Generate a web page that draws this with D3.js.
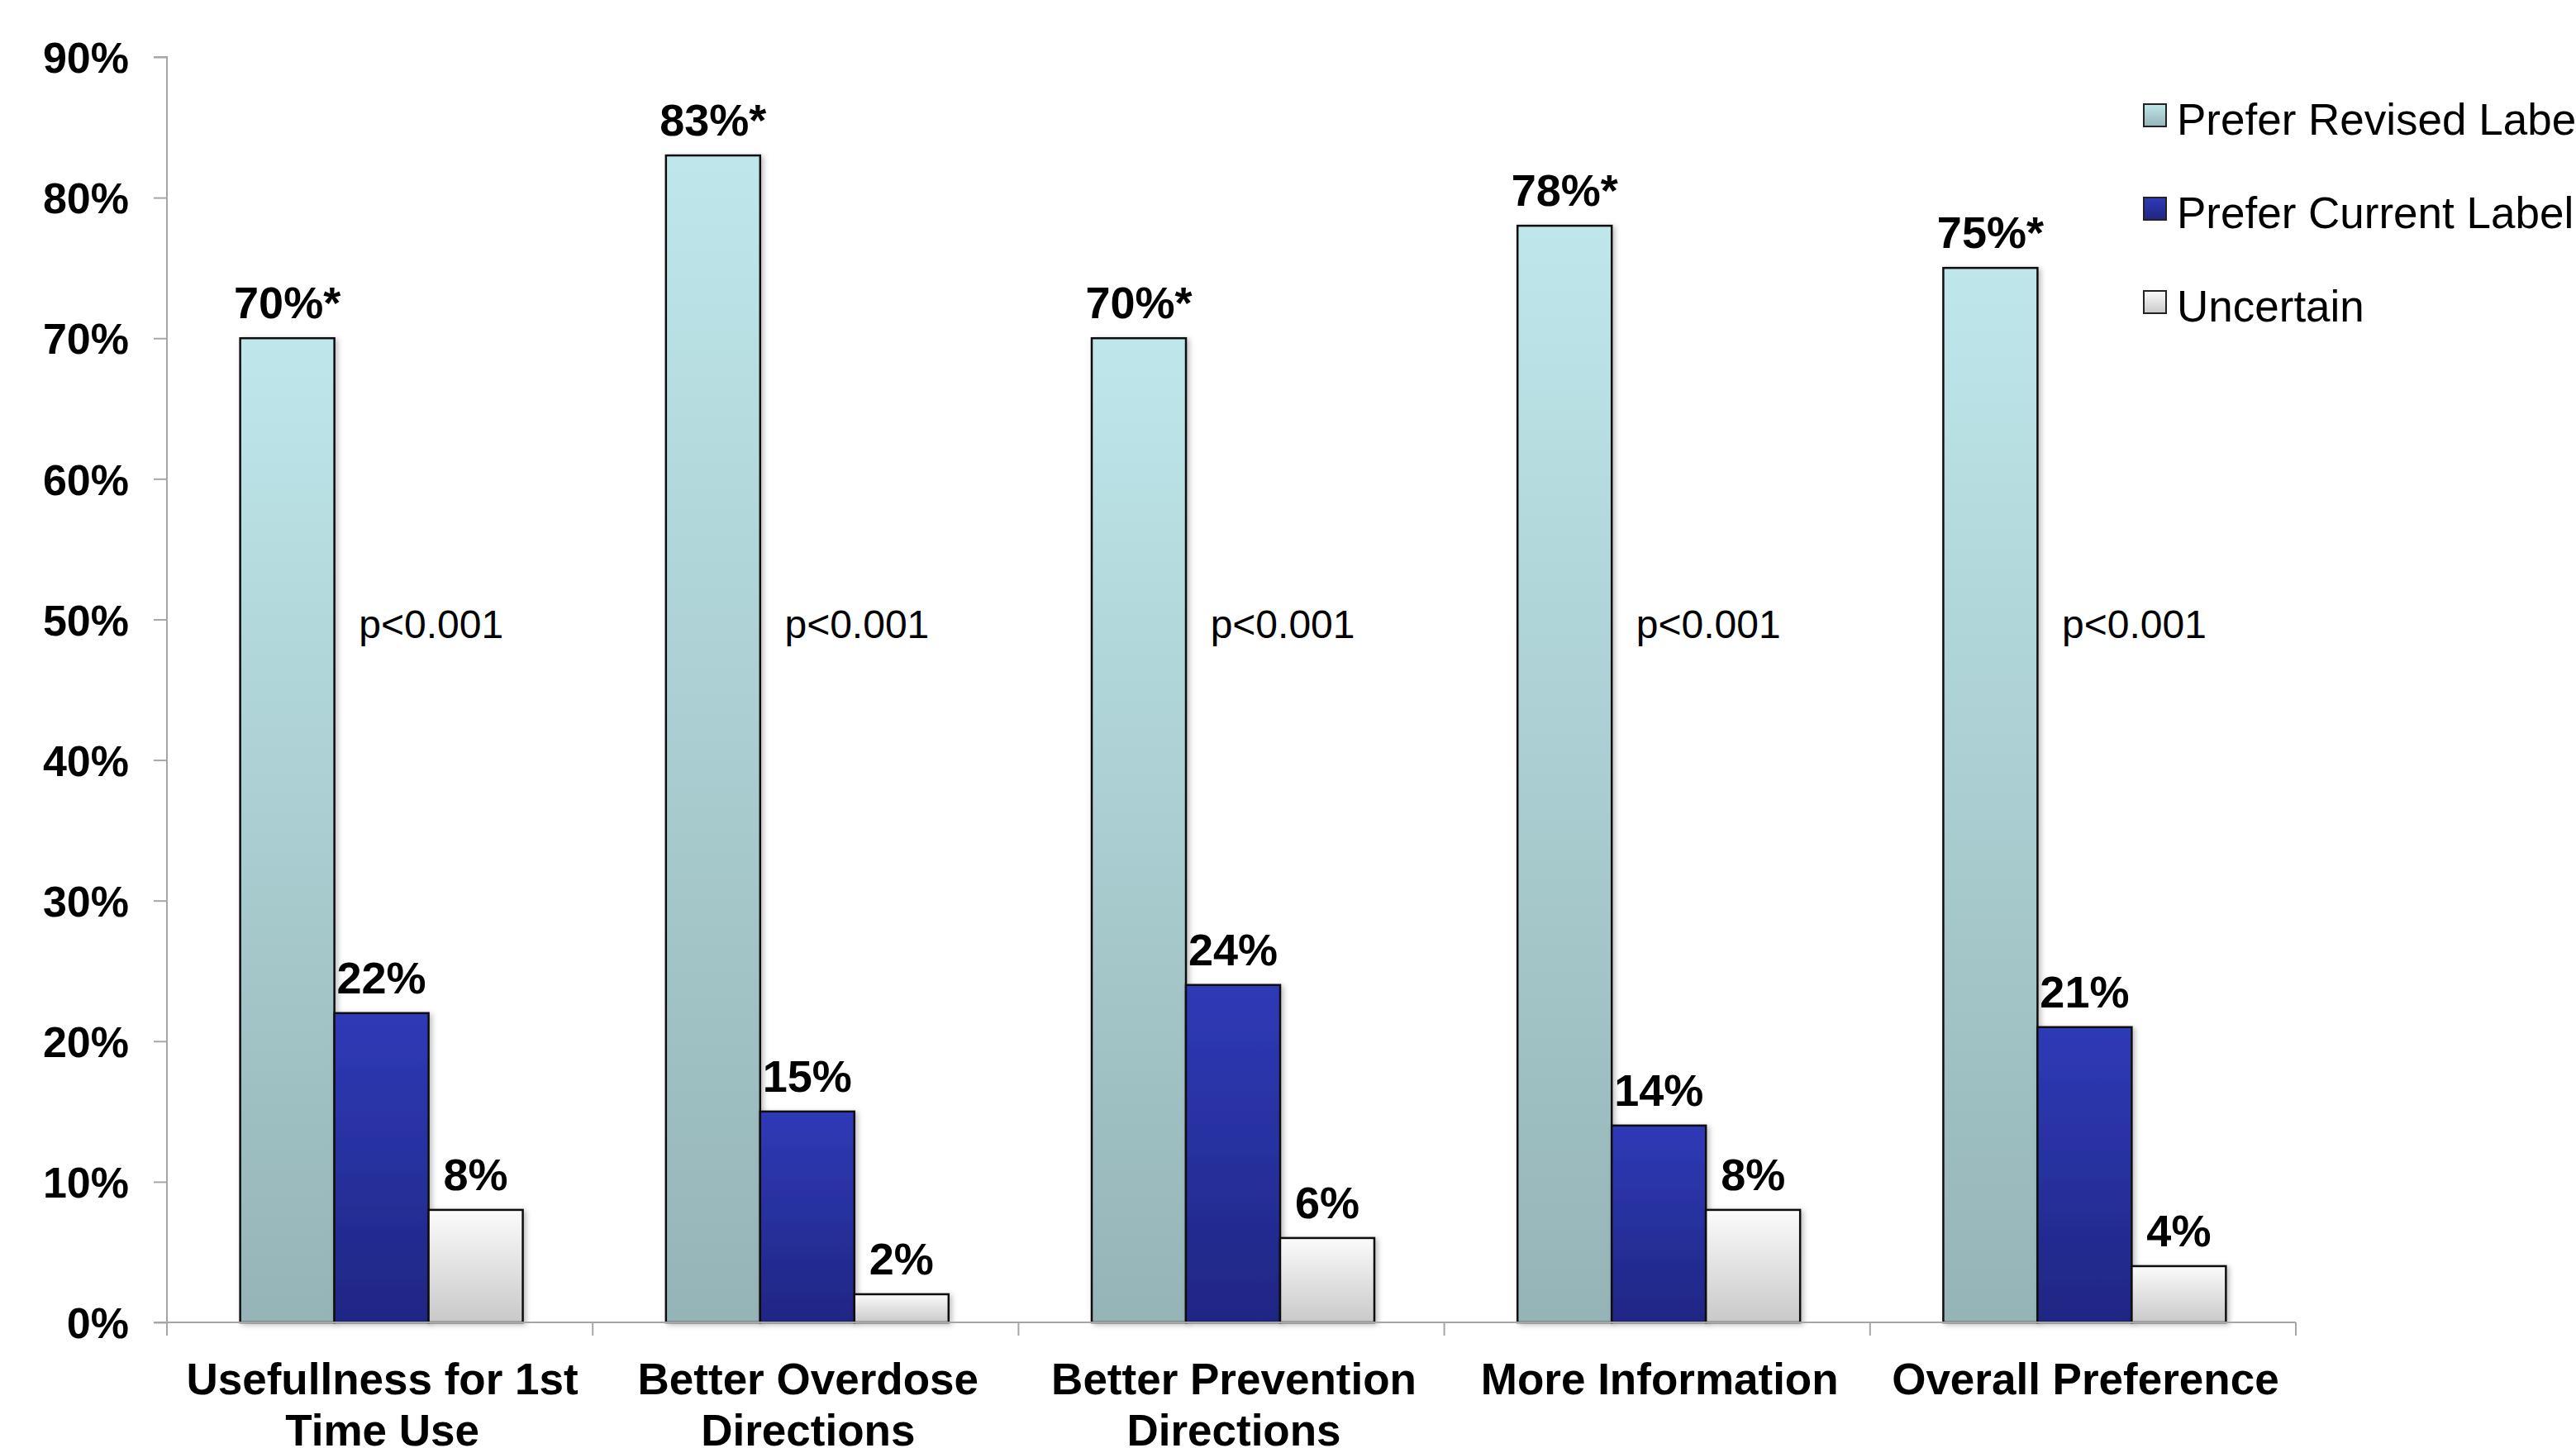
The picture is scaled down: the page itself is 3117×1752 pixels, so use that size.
<!DOCTYPE html>
<html>
<head>
<meta charset="utf-8">
<script src="https://cdn.jsdelivr.net/npm/d3@7"></script>
<style>
  body { margin: 0; background: #fff; }
  text { font-family: "Liberation Sans", Arial, sans-serif; }
</style>
</head>
<body>
<div id="chart"></div>
<script>
// chart values
const categories = ["Usefullness for 1st\nTime Use", "Better Overdose\nDirections", "Better Prevention\nDirections", "More Information", "Overall Preference"];
const seriesNames = ["Prefer Revised Label", "Prefer Current Label", "Uncertain"];
const revised = [70, 83, 70, 78, 75];
const current = [22, 15, 24, 14, 21];
const uncertain = [8, 2, 6, 8, 4];
const revisedMark = "*";
const pValues = ["p<0.001", "p<0.001", "p<0.001", "p<0.001", "p<0.001"];
const yTicks = [0, 10, 20, 30, 40, 50, 60, 70, 80, 90];

let conf = {
    div: '#chart',
    width: 3117,
    height: 1752,
    left: 202,
    right: 2778,
    top: 69,
    bottom: 1600
};

// gradient stops per series (top, bottom)
const fills = [
    ["#bfe7eb", "#95b4b7"],
    ["#2f3ab7", "#1f2683"],
    ["#fbfbfb", "#c9c9c9"]
];

const svg = d3.select(conf.div)
    .append("svg")
    .attr("width", conf.width)
    .attr("height", conf.height);

const defs = svg.append("defs");
fills.forEach((f, i) => {
    let g = defs.append("linearGradient")
        .attr("id", "grad" + i)
        .attr("x1", 0).attr("y1", 0).attr("x2", 0).attr("y2", 1);
    g.append("stop").attr("offset", "0%").attr("stop-color", f[0]);
    g.append("stop").attr("offset", "100%").attr("stop-color", f[1]);
});
defs.append("filter").attr("id", "shadow")
    .attr("x", "-20%").attr("y", "-20%").attr("width", "150%").attr("height", "150%")
    .append("feDropShadow")
    .attr("dx", 3).attr("dy", 2).attr("stdDeviation", 3)
    .attr("flood-color", "#000").attr("flood-opacity", 0.25);

const table = categories.map((c, i) => ({
    cat: c,
    vals: [revised[i], current[i], uncertain[i]],
    p: pValues[i]
}));

const x0 = d3.scaleBand()
    .domain(categories)
    .range([conf.left, conf.right])
    .paddingInner(0).paddingOuter(0);

const x1 = d3.scaleBand()
    .domain(d3.range(seriesNames.length))
    .range([0, x0.bandwidth()])
    .paddingInner(0).paddingOuter(0.76);

const y = d3.scaleLinear()
    .domain([0, 90])
    .range([conf.bottom, conf.top]);

// Y axis
const yAxis = svg.append("g")
    .attr("transform", `translate(${conf.left},0)`)
    .call(d3.axisLeft(y).tickValues(yTicks).tickSize(16).tickPadding(30).tickFormat(d => d + "%"));
yAxis.selectAll("path, line").attr("stroke", "#a6a6a6").attr("stroke-width", 2);
yAxis.select(".domain").attr("d", `M-16,${y(90)}H0V${y(0)}`);
yAxis.selectAll("text")
    .attr("font-size", 52).attr("font-weight", "bold").attr("fill", "#000")
    .attr("font-family", "Liberation Sans, Arial, sans-serif")
    .attr("dy", "0.36em");

// bars
const groups = svg.append("g").selectAll("g")
    .data(table)
    .join("g")
    .attr("transform", d => `translate(${x0(d.cat) + 2},0)`);

groups.selectAll("rect")
    .data(d => d.vals)
    .join("rect")
    .attr("x", (d, i) => x1(i))
    .attr("y", d => y(d))
    .attr("width", x1.bandwidth())
    .attr("height", d => y(0) - y(d))
    .attr("fill", (d, i) => `url(#grad${i})`)
    .attr("stroke", "#111")
    .attr("stroke-width", 2.5)
    .attr("filter", "url(#shadow)");

// value labels
groups.selectAll("text.val")
    .data(d => d.vals)
    .join("text")
    .attr("class", "val")
    .attr("x", (d, i) => x1(i) + x1.bandwidth() / 2)
    .attr("y", d => y(d) - 24)
    .attr("text-anchor", "middle")
    .attr("font-size", 54)
    .attr("font-weight", "bold")
    .text((d, i) => d + "%" + (i === 0 ? revisedMark : ""));

// p-value notes
groups.append("text")
    .attr("x", x1(1) + x1.bandwidth() * 0.26)
    .attr("y", y(50) + 23)
    .attr("font-size", 48)
    .text(d => d.p);

// X axis
const xAxis = svg.append("g");
xAxis.append("path")
    .attr("d", `M${conf.left - 16},${y(0)}H${conf.right}`)
    .attr("stroke", "#a6a6a6").attr("stroke-width", 2).attr("fill", "none");
const bounds = categories.map(c => x0(c)).concat([x0(categories[categories.length - 1]) + x0.bandwidth()]);
xAxis.selectAll("line")
    .data(bounds)
    .join("line")
    .attr("x1", d => d).attr("x2", d => d)
    .attr("y1", y(0)).attr("y2", y(0) + 16)
    .attr("stroke", "#a6a6a6").attr("stroke-width", 2);

const catText = xAxis.selectAll("text")
    .data(categories)
    .join("text")
    .attr("x", d => x0(d) + x0.bandwidth() / 2 + 3)
    .attr("y", 1687)
    .attr("text-anchor", "middle")
    .attr("font-size", 53)
    .attr("font-weight", "bold");
catText.selectAll("tspan")
    .data(d => d.split("\n"))
    .join("tspan")
    .attr("x", function() { return d3.select(this.parentNode).attr("x"); })
    .attr("dy", (d, i) => i === 0 ? 0 : 62)
    .text(d => d);

// legend
const legend = svg.append("g")
    .attr("transform", "translate(2594,126)");
const items = legend.selectAll("g")
    .data(seriesNames)
    .join("g")
    .attr("transform", (d, i) => `translate(0,${i * 113})`);
items.append("rect")
    .attr("width", 27).attr("height", 27)
    .attr("fill", (d, i) => `url(#grad${i})`)
    .attr("stroke", "#222").attr("stroke-width", 2);
items.append("text")
    .attr("x", 40)
    .attr("y", 37)
    .attr("font-size", 53)
    .text(d => d);
</script>
</body>
</html>
